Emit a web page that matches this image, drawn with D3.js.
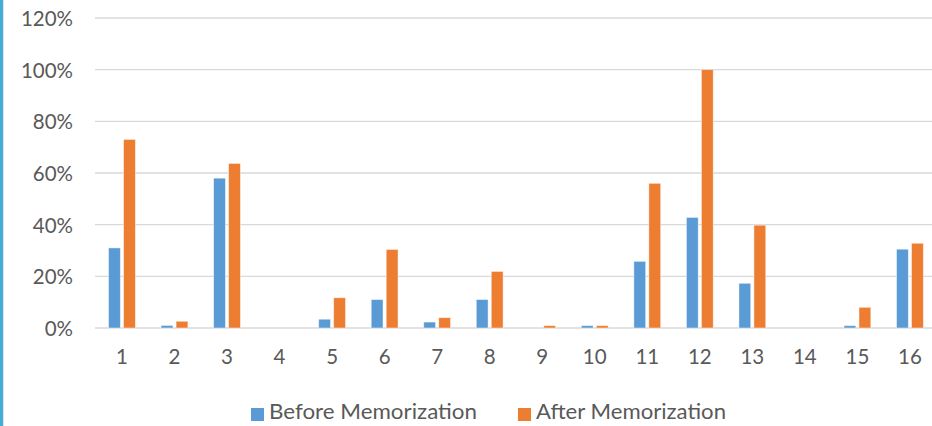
<!DOCTYPE html>
<html>
<head>
<meta charset="utf-8">
<script src="https://cdn.jsdelivr.net/npm/d3@7"></script>
<style>
  html, body { margin: 0; padding: 0; background: #ffffff; }
  svg { display: block; }
  text { font-family: Lato, "Open Sans", "Liberation Sans", sans-serif; fill: #595959; }
</style>
</head>
<body>
<svg id="chart" width="932" height="426"></svg>
<script>
// Question numbers along the x axis
const categories = ["1","2","3","4","5","6","7","8","9","10","11","12","13","14","15","16"];
// Share of correct answers per question
const beforeValues = [0.31, 0.01, 0.58, 0, 0.034, 0.11, 0.023, 0.11, 0, 0.009, 0.258, 0.428, 0.173, 0, 0.009, 0.305];
const afterValues  = [0.73, 0.026, 0.637, 0, 0.117, 0.304, 0.04, 0.219, 0.009, 0.009, 0.56, 1.0, 0.398, 0, 0.08, 0.328];
const seriesNames = ["Before Memorization", "After Memorization"];
const seriesColors = ["#5b9bd5", "#ed7d31"];
const yTicks = [0, 0.2, 0.4, 0.6, 0.8, 1.0, 1.2];

const svg = d3.select("#chart");
const W = 932, H = 426;

svg.append("rect").attr("width", W).attr("height", H).attr("fill", "#ffffff");
// accent strip on the left edge
svg.append("rect").attr("x", 0).attr("y", 0).attr("width", 3).attr("height", H).attr("fill", "#45aed8");
svg.append("rect").attr("x", 3).attr("y", 0).attr("width", 1).attr("height", H).attr("fill", "#e3e8ec");

const plot = { left: 95.7, right: 936.2, top: 18, bottom: 328 };

const y = d3.scaleLinear().domain([0, 1.2]).range([plot.bottom, plot.top]);
const x = d3.scaleBand().domain(categories).range([plot.left, plot.right]).padding(0);
const xSub = d3.scaleBand().domain([0, 1]).range([0, x.bandwidth()])
  .paddingInner(0.213).paddingOuter(0.857);

// horizontal gridlines
svg.append("g").selectAll("line").data(yTicks).join("line")
  .attr("x1", 95).attr("x2", W)
  .attr("y1", d => y(d)).attr("y2", d => y(d))
  .attr("stroke", "#d9d9d9").attr("stroke-width", 1.3);

// y axis tick labels
const yAxis = d3.axisLeft(y).tickValues(yTicks).tickFormat(d3.format(".0%")).tickSize(0).tickPadding(0);
const gy = svg.append("g").attr("transform", "translate(73,0)").call(yAxis);
gy.select(".domain").remove();
gy.selectAll("text").attr("font-size", 20.5).attr("fill", "#595959")
  .attr("font-family", "Lato, sans-serif").attr("dy", "0.36em");

// x axis labels
const xAxis = d3.axisBottom(x).tickSize(0).tickPadding(0);
const gx = svg.append("g").attr("transform", "translate(0,364)").call(xAxis);
gx.select(".domain").remove();
gx.selectAll("text").attr("font-size", 20.5).attr("fill", "#595959")
  .attr("font-family", "Lato, sans-serif").attr("dy", 0);

// bars
const rows = categories.map((c, i) => ({ c, vals: [beforeValues[i], afterValues[i]] }));
const groups = svg.append("g").selectAll("g").data(rows).join("g")
  .attr("transform", d => `translate(${x(d.c)},0)`);
groups.selectAll("rect").data(d => d.vals.map((v, k) => ({ v, k }))).join("rect")
  .filter(d => d.v > 0)
  .attr("x", d => xSub(d.k))
  .attr("width", xSub.bandwidth())
  .attr("y", d => y(d.v))
  .attr("height", d => y(0) - y(d.v))
  .attr("fill", d => seriesColors[d.k])
  .attr("stroke", "rgba(255,255,255,0.55)")
  .attr("stroke-width", 0.8);

// legend
const legendX = [251, 518];
const legendTextWidth = [208, 190];
const lg = svg.append("g").selectAll("g").data(seriesNames).join("g")
  .attr("transform", (d, i) => `translate(${legendX[i]},0)`);
lg.append("rect").attr("x", 0).attr("y", 408).attr("width", 13).attr("height", 13)
  .attr("fill", (d, i) => seriesColors[i]);
lg.append("text").attr("x", 18).attr("y", 419).attr("font-size", 20.5)
  .attr("textLength", (d, i) => legendTextWidth[i])
  .attr("lengthAdjust", "spacingAndGlyphs")
  .text(d => d);
</script>
</body>
</html>
